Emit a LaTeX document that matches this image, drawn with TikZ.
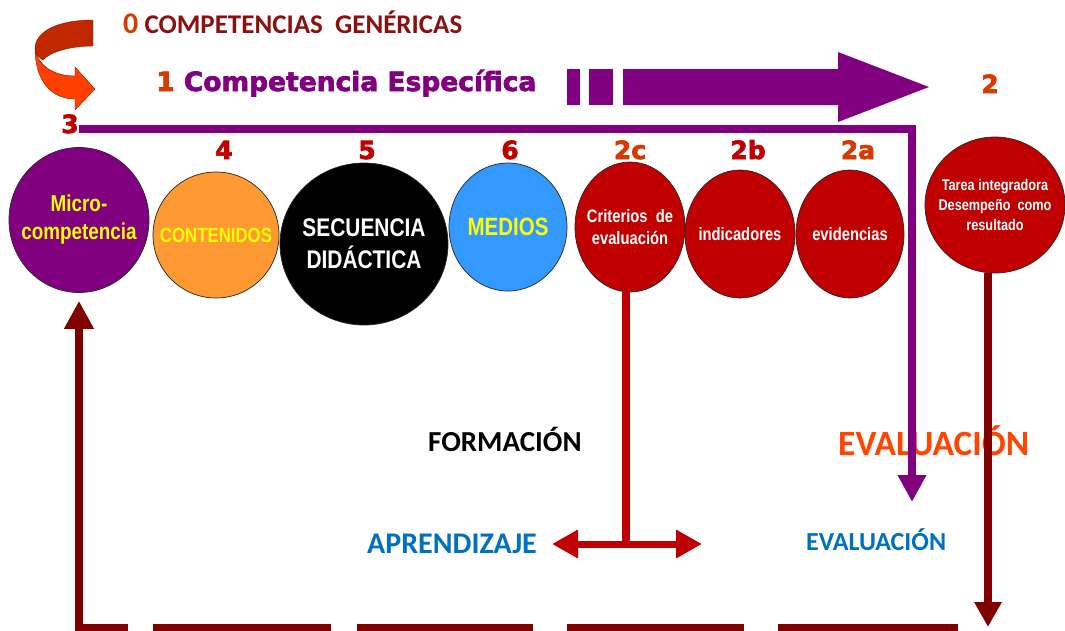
\documentclass[tikz,border=0pt]{standalone}
\usepackage{fontspec}
\setmainfont{Liberation Sans}
\newfontfamily\calfont{Carlito}
\newfontfamily\narfont[FakeStretch=0.82]{Liberation Sans}
\newfontfamily\heavyfont[FakeBold=2.5]{DejaVu Sans Bold}
\usepackage{tikz}
\usetikzlibrary{shapes.geometric, arrows.meta}

\definecolor{purp}{HTML}{800080}
\definecolor{maroon}{HTML}{800000}
\definecolor{circred}{HTML}{C00000}
\definecolor{numred}{HTML}{C00000}
\definecolor{numorange}{HTML}{D63A00}
\definecolor{titlered}{HTML}{8B1010}
\definecolor{evalorange}{HTML}{FF4500}
\definecolor{textblue}{HTML}{0070C0}
\definecolor{orangefill}{HTML}{FF9933}
\definecolor{bluefill}{HTML}{3399FF}
\definecolor{yel}{HTML}{FFFF00}
\definecolor{curldark}{HTML}{C02800}
\definecolor{curllight}{HTML}{FF4000}

\newcommand{\cfont}[2]{\narfont\bfseries\fontsize{#1}{#2}\selectfont}

\tikzset{
  circ/.style={ellipse, draw=black!85, line width=0.7pt, inner sep=0pt},
  num/.style={font=\heavyfont\fontsize{25}{25}\selectfont, text=numred, anchor=base, inner sep=0pt},
  word/.style={anchor=base west, inner sep=0pt}
}

\begin{document}
\begin{tikzpicture}[x=1pt, y=-1pt]
  \useasboundingbox (0,0) rectangle (1065,630);
  \fill[white] (0,0) rectangle (1065,630);

  % curled arrow
  \fill[curldark, draw=curldark!70!black, line width=0.4pt] (93,20) -- (93,46)
    .. controls (70,46) and (50,52) .. (43,60)
    .. controls (37,57) and (35,53) .. (35,47)
    .. controls (37,30) and (60,20) .. (93,20) -- cycle;
  \fill[curllight, draw=curldark!70!black, line width=0.4pt] (35,48)
    .. controls (37,64) and (52,76) .. (75,76) -- (75,67) -- (95,89) -- (75,110) -- (75,99)
    .. controls (52,99) and (35,82) .. (35,48) -- cycle;

  % titles
  \node[word, font=\calfont\bfseries\fontsize{27}{27}\selectfont] (gen) at (123,33)
    {\textcolor{numorange}{\fontsize{30}{30}\selectfont 0} \textcolor{titlered}{COMPETENCIAS~ GENÉRICAS}};
  \node[word, font=\heavyfont\fontsize{26.5}{26.5}\selectfont] (esp) at (156,91)
    {\textcolor{numorange}{1} \textcolor{purp}{Competencia Específica}};

  % big purple arrow
  \fill[purp] (567,69) rectangle (580,105);
  \fill[purp] (589,69) rectangle (613,105);
  \fill[purp] (623,69) -- (838,69) -- (838,52) -- (929,87) -- (838,122) -- (838,105) -- (623,105) -- cycle;

  % numbers
  \node[num, text=numorange] (n2) at (990,93) {2};
  \node[num] (n3) at (70,133) {3};
  \node[num] (n4) at (224,159) {4};
  \node[num] (n5) at (367,159) {5};
  \node[num] (n6) at (510,159) {6};
  \node[num, text=numorange] (n2c) at (630,159) {2c};
  \node[num] (n2b) at (748,159) {2b};
  \node[num, text=numorange] (n2a) at (858,159) {2a};

  % circles
  \node[circ, fill=purp, minimum width=140pt, minimum height=145pt,
    label={[align=center, text=yel, font=\cfont{23}{28}]center:Micro-\\competencia}] (mc) at (79,220) {};
  \node[circ, fill=orangefill, minimum width=126pt, minimum height=126pt,
    label={[text=yel, font=\cfont{20.5}{24}]center:CONTENIDOS}] (cont) at (216,235) {};
  \node[circ, fill=black, minimum width=168pt, minimum height=162pt,
    label={[align=center, text=white, font=\cfont{25.5}{32}]center:SECUENCIA\\DIDÁCTICA}] (sec) at (364,244) {};
  \node[circ, fill=bluefill, minimum width=118pt, minimum height=128pt,
    label={[text=yel, font=\cfont{25}{30}]center:MEDIOS}] (med) at (508,227) {};
  \node[circ, fill=circred, minimum width=110pt, minimum height=130pt,
    label={[align=center, text=white, font=\cfont{18}{22}]center:Criterios~~de\\evaluación}] (crit) at (630,227) {};
  \node[circ, fill=circred, minimum width=110pt, minimum height=128pt,
    label={[text=white, font=\cfont{18}{22}]center:indicadores}] (ind) at (740,234) {};
  \node[circ, fill=circred, minimum width=108pt, minimum height=128pt,
    label={[text=white, font=\cfont{18}{22}]center:evidencias}] (evid) at (850,234) {};
  \node[circ, fill=circred, minimum width=140pt, minimum height=136pt,
    label={[align=center, text=white, font=\cfont{15.5}{20}]center:Tarea integradora\\Desempeño~~como\\resultado}] (tarea) at (995,205) {};

  % words
  \node[word, font=\calfont\bfseries\fontsize{29}{29}\selectfont] (form) at (428,451) {FORMACIÓN};
  \node[word, text=evalorange, font=\calfont\bfseries\fontsize{35.5}{35.5}\selectfont] (evalb) at (838,455) {EVALUACIÓN};
  \node[word, text=textblue, font=\calfont\bfseries\fontsize{30}{30}\selectfont] (apr) at (367,553) {APRENDIZAJE};
  \node[word, text=textblue, font=\calfont\bfseries\fontsize{26}{26}\selectfont] (evals) at (806,550) {EVALUACIÓN};

  % connectors
  \coordinate (pcorner) at (912,129);
  \coordinate (pend) at (912,502);
  \draw[line width=8pt, purp, -{Triangle[width=27pt,length=27pt]}] (n3.east |- pcorner) -- (pcorner) -- (pend);

  \coordinate (lrcross) at (626,544);
  \coordinate (apl) at (552,544);
  \coordinate (apr) at (702,544);
  \draw[line width=8pt, circred] (crit.south -| lrcross) -- (lrcross);
  \draw[line width=7pt, circred, {Triangle[width=27pt,length=26pt]}-{Triangle[width=27pt,length=26pt]}] (apl) -- (apr);

  \coordinate (tarrow) at (988,627);
  \draw[line width=8pt, maroon, -{Triangle[width=26pt,length=25pt]}] (tarea.south -| tarrow) -- (tarrow);
  \draw[line width=8pt, maroon, -{Triangle[width=28pt,length=28pt]}, shorten >=8pt] (128,628) -| (mc.south);
  \foreach \a/\b in {153/331, 357/533, 567/744, 778/958}
    \draw[line width=8pt, maroon] (\a,628) -- (\b,628);
\end{tikzpicture}
\end{document}
